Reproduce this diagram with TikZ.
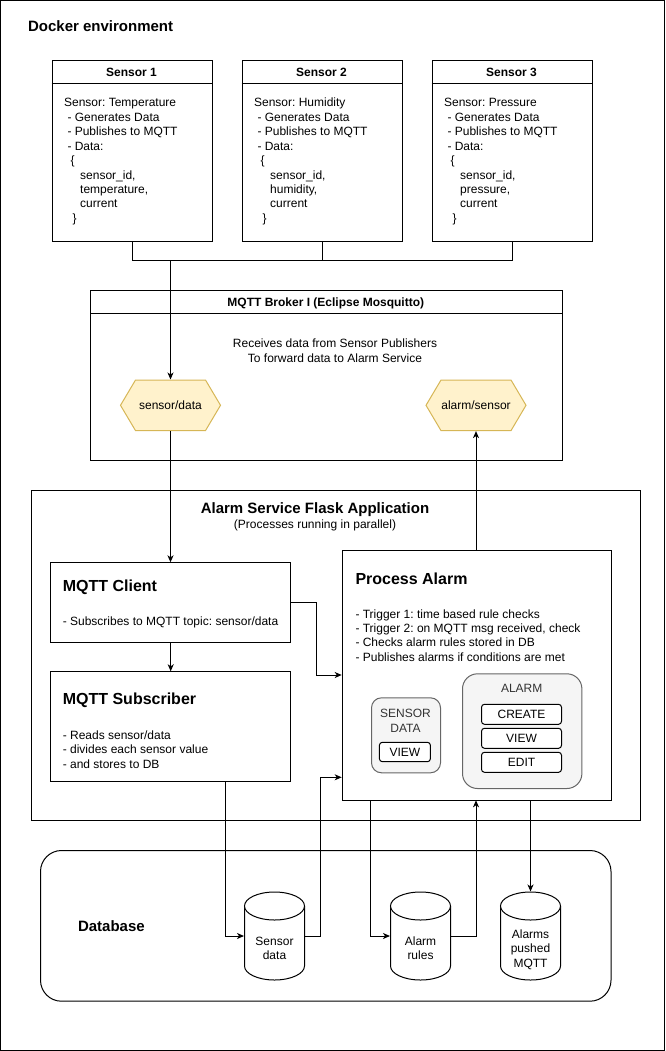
\documentclass[tikz,border=0pt]{standalone}
\usepackage{fontspec}
\setmainfont{Liberation Sans}
\usetikzlibrary{arrows.meta}
\frenchspacing
\definecolor{hexfill}{HTML}{FFF2CC}
\definecolor{hexdraw}{HTML}{D6B656}
\definecolor{gfill}{HTML}{F5F5F5}
\definecolor{gdraw}{HTML}{666666}
\definecolor{gtext}{HTML}{333333}

\newcommand\sensorbody[4]{%
  \foreach \dx/\t [count=\i from 0] in {0/{Sensor: #3}, 3.4/{- Generates Data}, 3.4/{- Publishes to MQTT}, 3.4/{- Data:}, 6.4/{\{}, 16.1/{sensor\_id,}, 16.1/{#4,}, 16.1/{current}, 8.4/{\}}}
  {\node[txt] (#1\i) at (#2+\dx, 107+14.4*\i) {\t};}}

\newcommand\cylshape[2]{%
  \node[minimum width=60pt, minimum height=88pt, inner sep=0] (#1) at (#2+30, 936) {};
  \draw[fill=white] (#2,906) -- (#2,966) arc[start angle=180, end angle=360, x radius=30pt, y radius=14pt] -- (#2+60,906);
  \draw[fill=white] (#2+30,906) ellipse[x radius=30pt, y radius=14pt];}

\newcommand\hexshape[3]{%
  \draw[draw=hexdraw, fill=hexfill] (#2-50,405.3) -- (#2-35,380) -- (#2+35,380) -- (#2+50,405.3) -- (#2+35,430.6) -- (#2-35,430.6) -- cycle;
  \node[minimum width=100pt, minimum height=50.6pt, inner sep=0, text height=8.7pt, text depth=0pt, font=\fontsize{12}{14.4}\selectfont] (#1) at (#2,405.3) {#3};}

\begin{document}
\begin{tikzpicture}[x=1pt, y=-1pt, line width=1pt,
  box/.style={draw, inner sep=0, anchor=north west},
  txt/.style={inner sep=0, anchor=base west, font=\fontsize{12}{14.4}\selectfont},
  ctxt/.style={inner sep=0, anchor=base, font=\fontsize{12}{14.4}\selectfont},
  hdr/.style={inner sep=0, anchor=base, font=\fontsize{12}{14.4}\selectfont\bfseries},
  bigt/.style={inner sep=0, font=\fontsize{15}{18}\selectfont\bfseries},
  ttl/.style={inner sep=0, anchor=base west, font=\fontsize{16}{19}\selectfont\bfseries},
  arr/.style={-{Stealth[length=7pt, width=6pt, inset=2pt]}},
  gbox/.style={draw=gdraw, fill=gfill, inner sep=0, anchor=north west},
  btn/.style={draw, fill=white, rounded corners=3pt, inner sep=0, text height=8.7pt, text depth=0pt, minimum width=80pt, minimum height=20pt, font=\fontsize{12}{14.4}\selectfont},
]
\useasboundingbox (0,0) rectangle (665,1051);
\draw (0.5,0.5) rectangle (664.5,1050.5);

\node[bigt, anchor=base west] (dock) at (27.6,31.4) {Docker environment};

% Sensors
\node[box, minimum width=160pt, minimum height=180pt] (s1) at (51.5,60.5) {};
\node[box, minimum width=160pt, minimum height=180pt] (s2) at (241.5,60.5) {};
\node[box, minimum width=160pt, minimum height=180pt] (s3) at (431.5,60.5) {};
\draw (51.5,84) -- (211.5,84);
\draw (241.5,84) -- (401.5,84);
\draw (431.5,84) -- (591.5,84);
\node[hdr] (s1h) at (131.5,76.8) {Sensor 1};
\node[hdr] (s2h) at (321.5,76.8) {Sensor 2};
\node[hdr] (s3h) at (511.5,76.8) {Sensor 3};
\sensorbody{sa}{63.6}{Temperature}{temperature}
\sensorbody{sb}{253.6}{Humidity}{humidity}
\sensorbody{sc}{443.6}{Pressure}{pressure}

% MQTT Broker
\node[box, minimum width=471.7pt, minimum height=170pt] (br) at (90,290) {};
\draw (90,313.3) -- (561.7,313.3);
\node[hdr] (brh) at (325.8,306) {MQTT Broker I (Eclipse Mosquitto)};
\node[ctxt] (br1) at (335,347) {Receives data from Sensor Publishers};
\node[ctxt] (br2) at (335,362) {To forward data to Alarm Service};
\hexshape{hs}{170.5}{sensor/data}
\hexshape{ha}{476}{alarm/sensor}

% Alarm service
\node[box, minimum width=609pt, minimum height=330pt] (as) at (31,490) {};
\node[bigt, anchor=base] (ast) at (315,513.1) {Alarm Service Flask Application};
\node[ctxt] (ass) at (315,528) {(Processes running in parallel)};

\node[box, minimum width=240pt, minimum height=80pt] (mc) at (50.2,562.3) {};
\node[ttl] (mct) at (62.3,591) {MQTT Client};
\node[txt] (mc1) at (62.3,625) {- Subscribes to MQTT topic: sensor/data};

\node[box, minimum width=240pt, minimum height=109.7pt] (ms) at (50.2,671.3) {};
\node[ttl] (mst) at (62.3,704.7) {MQTT Subscriber};
\foreach \t [count=\i from 0] in {{- Reads sensor/data}, {- divides each sensor value}, {- and stores to DB}}
  {\node[txt] (ms\i) at (62.3, 739.3+14.4*\i) {\t};}

\node[box, minimum width=268.8pt, minimum height=250pt] (pa) at (341.7,550.3) {};
\node[ttl] (pat) at (355,584.4) {Process Alarm};
\foreach \t [count=\i from 0] in {{- Trigger 1: time based rule checks}, {- Trigger 2: on MQTT msg received, check}, {- Checks alarm rules stored in DB}, {- Publishes alarms if conditions are met}}
  {\node[txt] (pa\i) at (355, 618+14.4*\i) {\t};}

\node[gbox, rounded corners=10pt, minimum width=69pt, minimum height=75pt] (sdb) at (371,697.3) {};
\node[ctxt, text=gtext] (sdb1) at (405.5,717.6) {SENSOR};
\node[ctxt, text=gtext] (sdb2) at (405.5,732) {DATA};
\node[btn, minimum width=51pt, minimum height=19.4pt] (sdv) at (404.9,752) {VIEW};

\node[gbox, rounded corners=15pt, minimum width=119.4pt, minimum height=114.7pt] (alb) at (462,673.3) {};
\node[ctxt, text=gtext] (alb1) at (521.7,692) {ALARM};
\node[btn] (alc) at (521.5,714.3) {CREATE};
\node[btn] (alv) at (521.5,738.3) {VIEW};
\node[btn] (ale) at (521.5,762.3) {EDIT};

% Database
\node[box, rounded corners=21pt, minimum width=570.5pt, minimum height=150.7pt] (db) at (40,850) {};
\node[bigt, anchor=base west] (dbt) at (77.5,931.4) {Database};
\cylshape{cs}{244.5}
\cylshape{cr}{390.5}
\cylshape{cp}{500.5}
\node[ctxt] (cs1) at (274.5,945.3) {Sensor};
\node[ctxt] (cs2) at (274.5,959.7) {data};
\node[ctxt] (cr1) at (420.5,945.3) {Alarm};
\node[ctxt] (cr2) at (420.5,959.7) {rules};
\node[ctxt] (cp1) at (530.5,938.3) {Alarms};
\node[ctxt] (cp2) at (530.5,952.7) {pushed};
\node[ctxt] (cp3) at (530.5,967.1) {MQTT};

% Connectors
\coordinate (j) at (170.5,260);
\draw (s1.south) |- (j);
\draw (s2.south) |- (j);
\draw (s3.south) |- (j);
\draw[arr] (j) -- (hs.north);
\draw[arr] (hs.south) -- (hs.south |- mc.north);
\draw[arr] (mc.south) -- (ms.north);
\coordinate (k1) at (316.8,675);
\draw[arr] (mc.east) -| (k1) -- (k1 -| pa.west);
\coordinate (m5) at (225.3,781);
\draw[arr] (m5) |- (cs.west);
\coordinate (k6) at (320.3,777.3);
\draw[arr] (cs.east) -| (k6) -- (k6 -| pa.west);
\coordinate (p7) at (370.9,800.3);
\draw[arr] (p7) |- (cr.west);
\coordinate (p8) at (476,800.3);
\draw[arr] (cr.east) -| (p8);
\coordinate (p9) at (530.5,800.3);
\draw[arr] (p9) -- (p9 |- cp.north);
\draw[arr] (ha.south |- pa.north) -- (ha.south);
\end{tikzpicture}
\end{document}
